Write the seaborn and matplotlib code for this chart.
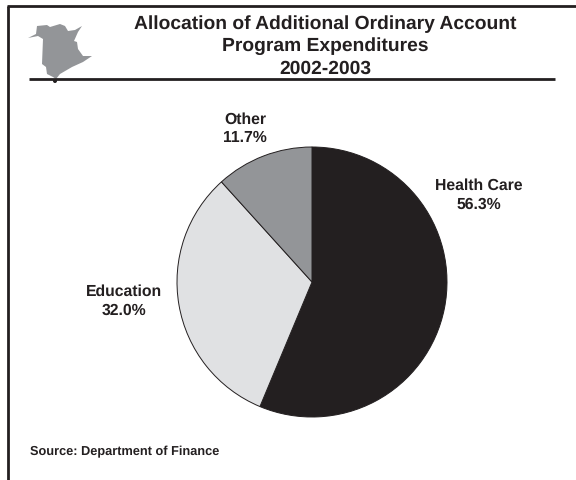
import matplotlib
matplotlib.use("Agg")
import matplotlib.pyplot as plt
from matplotlib.lines import Line2D
from matplotlib.patches import Polygon, Circle
from matplotlib.transforms import Affine2D
import seaborn as sns

categories = ["Health Care", "Education", "Other"]
shares = [56.3, 32.0, 11.7]
slice_colors = ["#231f20", "#e0e1e3", "#939598"]
title_lines = ["Allocation of Additional Ordinary Account", "Program Expenditures", "2002-2003"]
source_note = "Source: Department of Finance"

# Province silhouette traced in pixel units
province_outline = [
    (28, 39), (36, 35), (37, 27), (47, 26), (50, 28), (60, 25), (65, 27), (68, 32),
    (75, 31), (82, 27), (78, 33), (74, 42), (77, 43), (78, 50), (83, 57), (92, 57),
    (83, 63), (72, 68), (60, 75), (56, 80), (53, 78), (47, 75), (46, 68), (42, 65),
    (43, 40), (38, 37),
]

W, H = 576, 481
sns.set_theme(style="white", rc={"font.family": ["Liberation Sans", "DejaVu Sans"],
                                 "text.hinting": "no_hinting", "text.hinting_factor": 8})
fig = plt.figure(figsize=(W / 100, H / 100), dpi=100, facecolor="white")

# Pixel-space transform with the origin at the top-left corner
px = Affine2D().scale(1 / W, -1 / H).translate(0, 1) + fig.transFigure
ink = "#231f20"

fig.add_artist(Line2D([7, 576], [7, 7], transform=px, color=ink, lw=2.0, solid_capstyle="butt"))
fig.add_artist(Line2D([8, 8], [7, 481], transform=px, color=ink, lw=2.0, solid_capstyle="butt"))
fig.add_artist(Line2D([29, 555], [80, 80], transform=px, color=ink, lw=2.0, solid_capstyle="butt"))
fig.add_artist(Polygon(province_outline, closed=True, transform=px, facecolor="#939598", edgecolor="none"))
fig.add_artist(Circle((55, 82), 2, transform=px, facecolor=ink, edgecolor="none"))

for line, y in zip(title_lines, [24, 46, 69]):
    fig.text(325 / W, 1 - y / H, line, ha="center", va="center", fontsize=13.85,
             fontweight="bold", color=ink)

# Pie: centre (312, 283), radius 135 pixels
cx, cy, r = 312, 283, 135
ax = fig.add_axes([(cx - r) / W, 1 - (cy + r) / H, 2 * r / W, 2 * r / H])
ax.pie(shares, colors=slice_colors, startangle=90, counterclock=False, radius=1,
       wedgeprops={"edgecolor": ink, "linewidth": 0.7})
ax.set_xlim(-1, 1)
ax.set_ylim(-1, 1)
ax.set_aspect("equal")

label_pos = [(479, 195), (124, 301), (245, 129)]
for name, share, (x, y) in zip(categories, shares, label_pos):
    fig.text(x / W, 1 - y / H, f"{name}\n{share:.1f}%", ha="center", va="center",
             fontsize=11.3, fontweight="bold", color=ink, linespacing=1.3)

fig.text(30 / W, 1 - 452 / H, source_note, ha="left", va="center", fontsize=9.15,
         fontweight="bold", color=ink)

fig.savefig("out.png", dpi=100, facecolor="white")
